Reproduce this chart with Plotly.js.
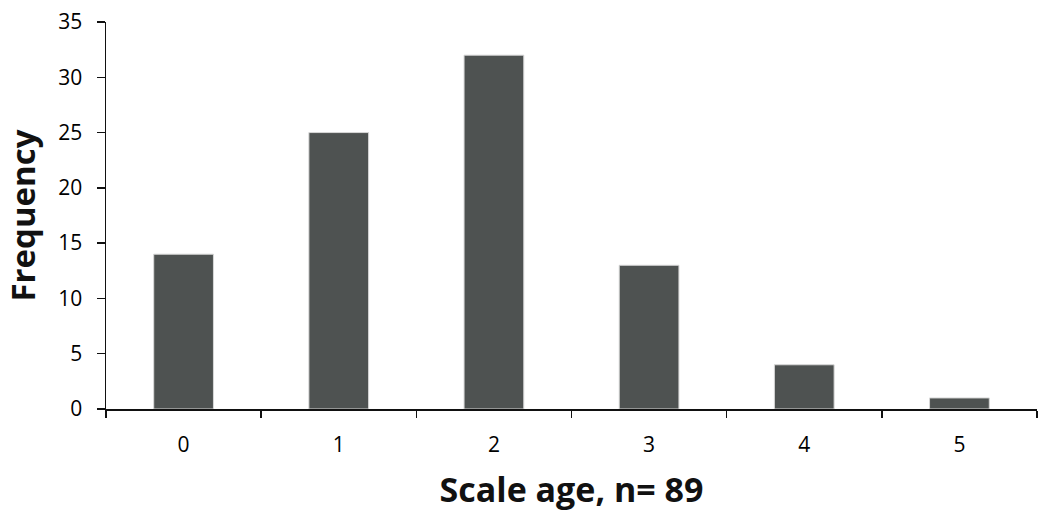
<!DOCTYPE html>
<html>
<head>
<meta charset="utf-8">
<script src="https://cdn.plot.ly/plotly-3.0.1.min.js"></script>
<style>html,body{margin:0;padding:0;background:#fff;}#chart{width:1041px;height:513px;}</style>
</head>
<body>
<div id="chart"></div>
<script>
const categories = ["0", "1", "2", "3", "4", "5"];
const frequency = [14, 25, 32, 13, 4, 1];
const yTicks = [0, 5, 10, 15, 20, 25, 30, 35];

const trace = {
  type: "bar",
  x: categories,
  y: frequency,
  width: 0.385,
  marker: { color: "#4e5251", line: { color: "#d8d8d8", width: 1 } },
  hoverinfo: "x+y"
};

const layout = {
  width: 1041,
  height: 513,
  margin: { l: 106, r: 4, t: 22, b: 104 },
  paper_bgcolor: "#ffffff",
  plot_bgcolor: "#ffffff",
  showlegend: false,
  font: { family: "Open Sans, sans-serif", color: "#000" },
  xaxis: {
    type: "category",
    tickson: "boundaries",
    ticks: "outside",
    ticklen: 7,
    tickwidth: 1.5,
    tickcolor: "#111",
    showline: true,
    linecolor: "#111",
    linewidth: 1.5,
    showgrid: false,
    zeroline: false,
    ticklabelstandoff: 16,
    tickfont: { size: 21, color: "#000" },
    title: { text: "Scale age, n= 89", font: { size: 34, color: "#111", family: "Open Sans, sans-serif", weight: "bold" }, standoff: 21 }
  },
  yaxis: {
    range: [0, 35],
    tickvals: yTicks,
    ticks: "outside",
    ticklen: 8,
    tickwidth: 1.5,
    tickcolor: "#111",
    showline: true,
    linecolor: "#111",
    linewidth: 1.5,
    showgrid: false,
    zeroline: false,
    ticklabelstandoff: 10,
    tickfont: { size: 21, color: "#000" },
    title: { text: "Frequency", font: { size: 33, color: "#111", family: "Open Sans, sans-serif", weight: "bold" }, standoff: 12 }
  },
  bargap: 0.6
};

Plotly.newPlot("chart", [trace], layout, { displayModeBar: false, staticPlot: true });
</script>
</body>
</html>
